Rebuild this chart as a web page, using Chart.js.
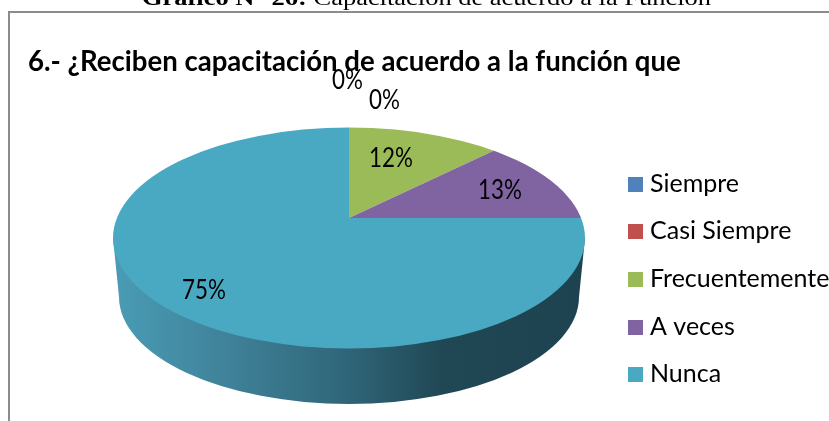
<!DOCTYPE html>
<html>
<head>
<meta charset="utf-8">
<title>Capacitación de acuerdo a la Función</title>
<script src="https://cdn.jsdelivr.net/npm/chart.js@4"></script>
<style>
    html, body { margin: 0; padding: 0; background: #fff; }
    canvas { display: block; }
</style>
</head>
<body>
<canvas id="pieChart" width="829" height="421"></canvas>
<script>
const caption = ['Gráfico N° 26:', ' Capacitación de acuerdo a la Función'];
const chartTitle = '6.- ¿Reciben capacitación de acuerdo a la función que';
const categories = ['Siempre', 'Casi Siempre', 'Frecuentemente', 'A veces', 'Nunca'];
const percentages = [0, 0, 12, 13, 75];
const sliceColors = ['#4f81bd', '#c0504d', '#9bbb59', '#8064a2', '#4aa9c2'];

// where things sit on the page, the pie is squashed into this ellipse
const apex = { x: 349, y: 218 };
const top3d = { x: 349, y: 238, rx: 236, ry: 110.5 };
const bottom3d = { x: 349, y: 297, rx: 230, ry: 107 };
const labelSpots = [[332, 89], [369, 109], [369, 167], [478, 199], [182, 299]];
const legendRows = [192, 239, 287, 335, 382];

// fonts here have no Calibri, so stretch the text to the same proportions
function stretchedText(ctx, text, x, y, font, sx, sy) {
    ctx.save();
    ctx.font = font;
    ctx.fillStyle = '#000';
    ctx.textAlign = 'left';
    ctx.textBaseline = 'alphabetic';
    ctx.translate(x, y);
    ctx.scale(sx, sy);
    ctx.fillText(text, 0, 0);
    ctx.restore();
}

const pagePlugin = {
    id: 'pagePlugin',
    beforeDraw(chart) {
        const ctx = chart.ctx;
        // frame, only the top and left edges are in the picture
        ctx.fillStyle = '#8c8c8c';
        ctx.fillRect(8, 11, 821, 2);
        ctx.fillRect(8, 11, 2, 410);

        ctx.save();
        ctx.font = 'bold 22px "Liberation Serif"';
        const boldWidth = ctx.measureText(caption[0]).width;
        ctx.font = '22px "Liberation Serif"';
        const restWidth = ctx.measureText(caption[1]).width;
        ctx.restore();
        const capScale = 569 / (boldWidth + restWidth);
        stretchedText(ctx, caption[0], 142, 5, 'bold 22px "Liberation Serif"', capScale, 1);
        stretchedText(ctx, caption[1], 142 + boldWidth * capScale, 5, '22px "Liberation Serif"', capScale, 1);

        stretchedText(ctx, chartTitle, 28, 71, 'bold 28px Lato', 0.985, 1);
    },
    beforeDatasetsDraw(chart) {
        const ctx = chart.ctx;
        const arc = chart.getDatasetMeta(0).data[0];

        // side wall of the pie
        const wall = ctx.createLinearGradient(113, 0, 585, 0);
        wall.addColorStop(0, '#4a9cb6');
        wall.addColorStop(0.25, '#3f8198');
        wall.addColorStop(0.5, '#2f6578');
        wall.addColorStop(0.7, '#204754');
        wall.addColorStop(1, '#1e4350');
        ctx.save();
        ctx.fillStyle = wall;
        ctx.beginPath();
        ctx.moveTo(top3d.x - top3d.rx, top3d.y);
        ctx.lineTo(bottom3d.x - bottom3d.rx, bottom3d.y);
        ctx.ellipse(bottom3d.x, bottom3d.y, bottom3d.rx, bottom3d.ry, 0, Math.PI, 0, true);
        ctx.lineTo(top3d.x + top3d.rx, top3d.y);
        ctx.closePath();
        ctx.fill();
        ctx.restore();

        // library slices go through this squash and get cut by the top ellipse
        ctx.save();
        ctx.beginPath();
        ctx.ellipse(top3d.x, top3d.y, top3d.rx, top3d.ry, 0, 0, Math.PI * 2);
        ctx.clip();
        const sx = 400 / arc.outerRadius;
        const sy = sx / 2.29;
        ctx.translate(apex.x, apex.y);
        ctx.scale(sx, sy);
        ctx.translate(-arc.x, -arc.y);
    },
    afterDatasetsDraw(chart) {
        const ctx = chart.ctx;
        ctx.restore();

        const total = percentages.reduce((a, b) => a + b, 0);
        percentages.forEach((value, i) => {
            const text = Math.round(value / total * 100) + '%';
            stretchedText(ctx, text, labelSpots[i][0], labelSpots[i][1], '26px Lato', 0.86, 1);
        });

        categories.forEach((name, i) => {
            ctx.fillStyle = sliceColors[i];
            ctx.fillRect(628, legendRows[i] - 15, 15, 15);
            stretchedText(ctx, name, 650, legendRows[i], '25px Lato', 1.0, 1);
        });
    }
};

const ctx = document.getElementById('pieChart').getContext('2d');

new Chart(ctx, {
    type: 'pie',
    data: {
        labels: categories,
        datasets: [{
            data: percentages,
            backgroundColor: sliceColors,
            borderWidth: 0,
            clip: false
        }]
    },
    options: {
        responsive: false,
        animation: false,
        events: [],
        plugins: {
            legend: { display: false },
            tooltip: { enabled: false }
        }
    },
    plugins: [pagePlugin]
});
</script>
</body>
</html>
